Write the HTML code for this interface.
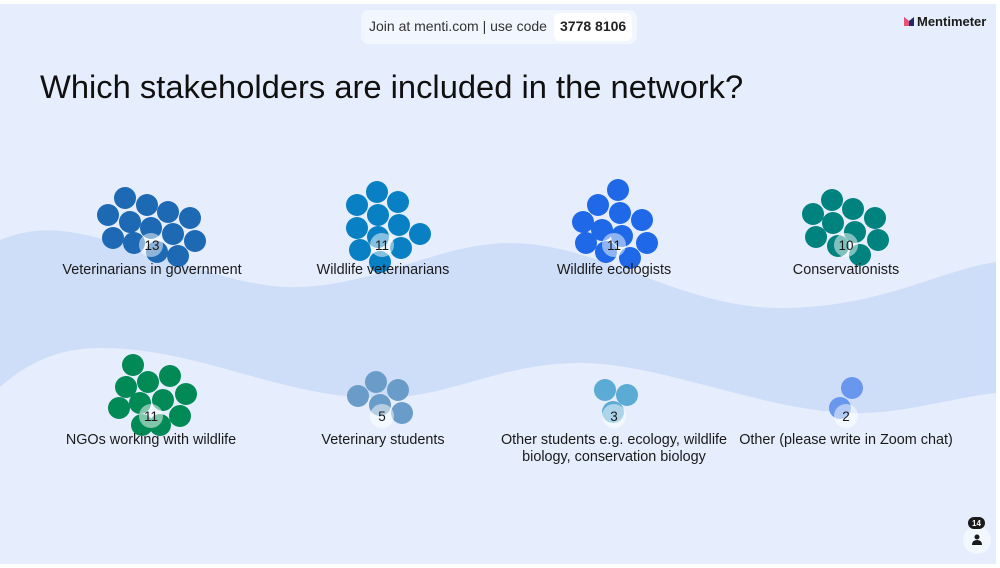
<!DOCTYPE html>
<html><head><meta charset="utf-8"><style>
body{margin:0;width:1000px;height:568px;overflow:hidden;background:#fff;font-family:"Liberation Sans",sans-serif;}
svg{position:absolute;left:0;top:0}
</style></head><body>
<svg width="1000" height="568" viewBox="0 0 1000 568">
<rect x="0" y="4" width="996" height="560" fill="#e6eefd"/>
<path d="M0,240 C20,232 40,228 70,232 C150,245 230,290 300,287 C380,284 440,243 510,243 C600,243 680,308 780,308 C880,308 940,270 996,262 L996,393 C950,398 900,415 850,413 C760,410 660,363 580,363 C500,363 450,398 380,398 C280,398 200,348 100,348 C50,348 20,370 0,387 Z" fill="#cfdef8"/>
<rect x="361" y="10" width="276" height="34" rx="8" fill="#f2f6fe"/>
<rect x="554" y="13" width="78" height="28" rx="6" fill="#fff"/>
<text x="369" y="31" font-size="14" fill="#333">Join at menti.com | use code</text>
<text x="560" y="31" font-size="14" font-weight="bold" fill="#222">3778 8106</text>
<path d="M904,26 V17 L909,21 L914,17 V26 Z" fill="#1e2a6b"/><path d="M904,17 L909,21 V26 H904 Z" fill="#e8517a"/>
<text x="917" y="26" font-size="13" font-weight="bold" fill="#1a1a1a">Mentimeter</text>
<text x="40" y="98" font-size="32.7" fill="#101010">Which stakeholders are included in the network?</text>
<g fill="#1d69b3">
<circle cx="125" cy="198" r="11"/><circle cx="147" cy="205" r="11"/><circle cx="168" cy="212" r="11"/><circle cx="108" cy="215" r="11"/><circle cx="130" cy="222" r="11"/><circle cx="151" cy="228" r="11"/><circle cx="190" cy="218" r="11"/><circle cx="113" cy="238" r="11"/><circle cx="134" cy="243" r="11"/><circle cx="173" cy="234" r="11"/><circle cx="195" cy="241" r="11"/><circle cx="157" cy="252" r="11"/><circle cx="178" cy="256" r="11"/></g>
<g fill="#0880c3">
<circle cx="377" cy="192" r="11"/><circle cx="357" cy="205" r="11"/><circle cx="398" cy="202" r="11"/><circle cx="378" cy="215" r="11"/><circle cx="357" cy="228" r="11"/><circle cx="399" cy="225" r="11"/><circle cx="420" cy="234" r="11"/><circle cx="378" cy="237" r="11"/><circle cx="360" cy="250" r="11"/><circle cx="401" cy="248" r="11"/><circle cx="380" cy="262" r="11"/></g>
<g fill="#1f68e8">
<circle cx="618" cy="190" r="11"/><circle cx="598" cy="205" r="11"/><circle cx="620" cy="213" r="11"/><circle cx="642" cy="220" r="11"/><circle cx="583" cy="222" r="11"/><circle cx="602" cy="230" r="11"/><circle cx="622" cy="236" r="11"/><circle cx="586" cy="243" r="11"/><circle cx="647" cy="243" r="11"/><circle cx="606" cy="252" r="11"/><circle cx="630" cy="258" r="11"/></g>
<g fill="#00827f">
<circle cx="832" cy="200" r="11"/><circle cx="813" cy="214" r="11"/><circle cx="853" cy="209" r="11"/><circle cx="875" cy="218" r="11"/><circle cx="833" cy="223" r="11"/><circle cx="855" cy="232" r="11"/><circle cx="816" cy="237" r="11"/><circle cx="878" cy="240" r="11"/><circle cx="838" cy="246" r="11"/><circle cx="860" cy="255" r="11"/></g>
<g fill="#028a56">
<circle cx="133" cy="365" r="11"/><circle cx="126" cy="387" r="11"/><circle cx="148" cy="382" r="11"/><circle cx="170" cy="376" r="11"/><circle cx="186" cy="394" r="11"/><circle cx="119" cy="408" r="11"/><circle cx="140" cy="403" r="11"/><circle cx="163" cy="400" r="11"/><circle cx="180" cy="416" r="11"/><circle cx="142" cy="425" r="11"/><circle cx="160" cy="425" r="11"/></g>
<g fill="#6a9cc9">
<circle cx="376" cy="382" r="11"/><circle cx="358" cy="396" r="11"/><circle cx="398" cy="390" r="11"/><circle cx="380" cy="405" r="11"/><circle cx="402" cy="413" r="11"/></g>
<g fill="#5babd4"><circle cx="605" cy="390" r="11"/><circle cx="627" cy="395" r="11"/><circle cx="613" cy="412" r="11"/></g>
<g fill="#6897ed"><circle cx="852" cy="388" r="11"/><circle cx="840" cy="408" r="11"/></g>
<g fill="#fff" fill-opacity="0.5">
<circle cx="151" cy="245" r="12"/><circle cx="382" cy="245" r="12"/><circle cx="614" cy="245" r="12"/><circle cx="846" cy="245" r="12"/>
<circle cx="151" cy="416" r="12"/><circle cx="382" cy="416" r="12"/><circle cx="614" cy="416" r="12"/><circle cx="846" cy="416" r="12"/></g>
<g font-size="14.4" fill="#1a1a1a" text-anchor="middle">
<text x="152" y="250" font-size="13.5">13</text><text x="382" y="250" font-size="13.5">11</text><text x="614" y="250" font-size="13.5">11</text><text x="846" y="250" font-size="13.5">10</text>
<text x="151" y="421" font-size="13.5">11</text><text x="382" y="421" font-size="13.5">5</text><text x="614" y="421" font-size="13.5">3</text><text x="846" y="421" font-size="13.5">2</text>
<text x="152" y="274">Veterinarians in government</text><text x="383" y="274">Wildlife veterinarians</text><text x="614" y="274">Wildlife ecologists</text><text x="846" y="274">Conservationists</text>
<text x="151" y="444">NGOs working with wildlife</text><text x="383" y="444">Veterinary students</text><text x="614" y="444">Other students e.g. ecology, wildlife</text><text x="614" y="461">biology, conservation biology</text><text x="846" y="444">Other (please write in Zoom chat)</text>
</g>
<circle cx="977" cy="540" r="14" fill="#f3f7fe"/>
<rect x="968" y="517" width="17" height="12" rx="6" fill="#1a1a1a"/>
<text x="976.5" y="526" font-size="8" font-weight="bold" fill="#fff" text-anchor="middle">14</text>
<circle cx="977" cy="537" r="2.5" fill="#1a1a1a"/><path d="M972,545 Q972,540 977,540 Q982,540 982,545 Z" fill="#1a1a1a"/>
</svg>
</body></html>
